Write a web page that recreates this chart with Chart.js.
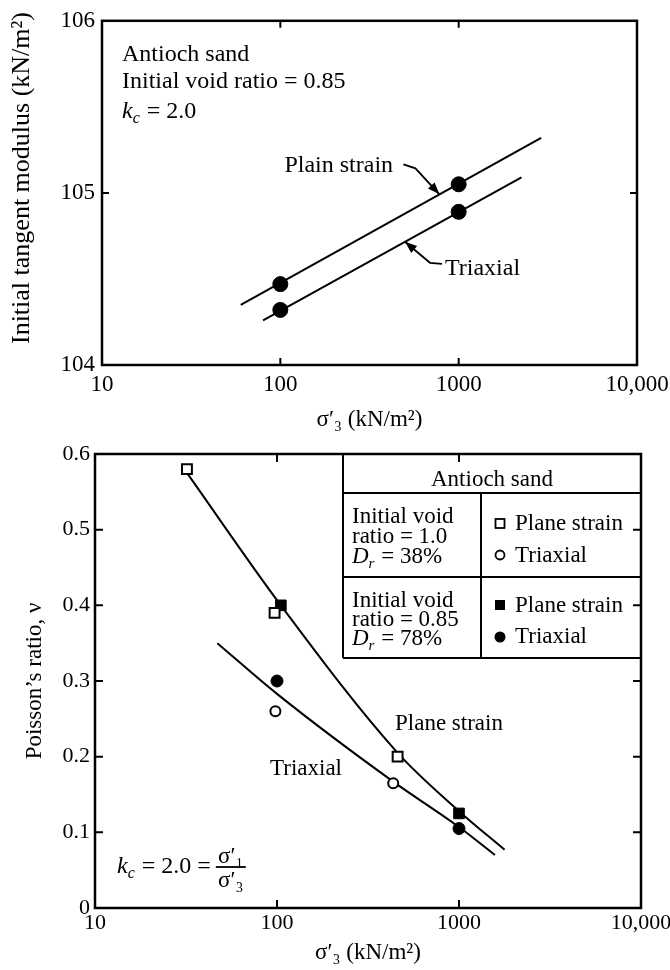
<!DOCTYPE html>
<html>
<head>
<meta charset="utf-8">
<script src="https://cdn.jsdelivr.net/npm/chart.js@4.4.1/dist/chart.umd.min.js"></script>
<style>
  html, body { margin: 0; padding: 0; background: #fff; }
  #wrap { position: relative; width: 670px; height: 970px; }
  canvas { position: absolute; left: 0; }
  #top { top: 0; }
  #bottom { top: 430px; }
</style>
</head>
<body>
<div id="wrap">
  <canvas id="top" width="670" height="450"></canvas>
  <canvas id="bottom" width="670" height="540"></canvas>
</div>
<script>
// shared x axis (log, sigma'3)
const xTicks = [10, 100, 1000, 10000];
const xTickLabels = ['10', '100', '1000', '10,000'];

// top: initial tangent modulus
const modTicks = [104, 105, 106];
const modPlainX = [100, 1000];
const modPlainY = [104.47, 105.05];
const modTriaxX = [100, 1000];
const modTriaxY = [104.32, 104.89];
const modPlainFitX = [60, 2900];
const modPlainFitY = [104.35, 105.32];
const modTriaxFitX = [80, 2250];
const modTriaxFitY = [104.26, 105.09];

// bottom: poisson's ratio
const nuTicks = [0, 0.1, 0.2, 0.3, 0.4, 0.5, 0.6];
const loosePlaneX = [32, 97, 460];
const loosePlaneY = [0.58, 0.39, 0.20];
const looseTriaxX = [98, 435];
const looseTriaxY = [0.26, 0.165];
const densePlaneX = [105, 1000];
const densePlaneY = [0.40, 0.125];
const denseTriaxX = [100, 1000];
const denseTriaxY = [0.30, 0.105];
const planeFitX = [32, 105, 460, 1000, 1780];
const planeFitY = [0.575, 0.40, 0.205, 0.128, 0.077];
const triaxFitX = [47, 100, 435, 1000, 1575];
const triaxFitY = [0.35, 0.283, 0.167, 0.107, 0.070];

const SERIF = "'Liberation Serif', 'Times New Roman', serif";
Chart.defaults.font.family = SERIF;
Chart.defaults.color = '#000';

const pts = (xs, ys) => xs.map((x, i) => ({ x: x, y: ys[i] }));

// y on a straight fit line in log-x
function fitAt(xs, ys, xv) {
  const t = (Math.log10(xv) - Math.log10(xs[0])) / (Math.log10(xs[1]) - Math.log10(xs[0]));
  return ys[0] + t * (ys[1] - ys[0]);
}

function frameAndTicks(chart, yVals, xVals, len) {
  const ctx = chart.ctx, a = chart.chartArea;
  const sx = chart.scales.x, sy = chart.scales.y;
  ctx.save();
  ctx.strokeStyle = '#000';
  ctx.lineWidth = 2.5;
  ctx.strokeRect(a.left, a.top, a.right - a.left, a.bottom - a.top);
  ctx.lineWidth = 2;
  ctx.beginPath();
  yVals.forEach(v => {
    const py = sy.getPixelForValue(v);
    ctx.moveTo(a.left, py); ctx.lineTo(a.left + len, py);
    ctx.moveTo(a.right, py); ctx.lineTo(a.right - len, py);
  });
  xVals.forEach(v => {
    const px = sx.getPixelForValue(v);
    ctx.moveTo(px, a.bottom); ctx.lineTo(px, a.bottom - len);
    ctx.moveTo(px, a.top); ctx.lineTo(px, a.top + len);
  });
  ctx.stroke();
  ctx.restore();
}

function arrow(ctx, path) {
  ctx.beginPath();
  ctx.moveTo(path[0][0], path[0][1]);
  for (let i = 1; i < path.length; i++) ctx.lineTo(path[i][0], path[i][1]);
  ctx.stroke();
  const [x1, y1] = path[path.length - 2], [x2, y2] = path[path.length - 1];
  const ang = Math.atan2(y2 - y1, x2 - x1);
  const c = Math.cos(ang), s = Math.sin(ang);
  ctx.beginPath();
  ctx.moveTo(x2, y2);
  ctx.lineTo(x2 - 12 * c + 4.5 * s, y2 - 12 * s - 4.5 * c);
  ctx.lineTo(x2 - 12 * c - 4.5 * s, y2 - 12 * s + 4.5 * c);
  ctx.closePath();
  ctx.fill();
}

// italic symbol with italic subscript, then plain text
function subText(ctx, x, y, main, sub, rest, size) {
  ctx.font = `italic ${size}px ${SERIF}`;
  ctx.fillText(main, x, y);
  x += ctx.measureText(main).width;
  ctx.font = `italic ${Math.round(size * 0.65)}px ${SERIF}`;
  ctx.fillText(sub, x, y + size * 0.2);
  x += ctx.measureText(sub).width + 1;
  ctx.font = `${size}px ${SERIF}`;
  ctx.fillText(rest, x, y);
  return x + ctx.measureText(rest).width;
}

function xAxis(fontSize, tickPad, height, titlePad, padRight) {
  return {
    type: 'logarithmic', min: 10, max: 10000,
    afterBuildTicks: s => { s.ticks = xTicks.map(v => ({ value: v })); },
    afterFit: s => { s.height = height; s.paddingRight = padRight; s.paddingLeft = 0; },
    ticks: {
      autoSkip: false, maxRotation: 0, padding: tickPad,
      font: { size: fontSize },
      callback: (v, i) => xTickLabels[i]
    },
    grid: { display: false, drawTicks: false },
    border: { display: false },
    title: { display: true, text: 'σ′₃ (kN/m²)', font: { size: 23 }, padding: { top: 0, bottom: titlePad } }
  };
}

const topDeco = {
  id: 'topDeco',
  afterDraw(chart) {
    const ctx = chart.ctx, a = chart.chartArea, sx = chart.scales.x, sy = chart.scales.y;
    frameAndTicks(chart, [105], [100, 1000], 7);
    ctx.save();
    ctx.fillStyle = '#000'; ctx.strokeStyle = '#000'; ctx.lineWidth = 2;
    ctx.textAlign = 'left'; ctx.textBaseline = 'alphabetic';
    ctx.font = `24px ${SERIF}`;
    ctx.fillText('Antioch sand', a.left + 20, a.top + 40);
    ctx.fillText('Initial void ratio = 0.85', a.left + 20, a.top + 67);
    subText(ctx, a.left + 20, a.top + 97, 'k', 'c', ' = 2.0', 24);

    const pt = [sx.getPixelForValue(780), sy.getPixelForValue(fitAt(modPlainFitX, modPlainFitY, 780))];
    ctx.font = `24px ${SERIF}`;
    ctx.fillText('Plain strain', pt[0] - 155, pt[1] - 22);
    ctx.lineWidth = 1.8;
    arrow(ctx, [[pt[0] - 36, pt[1] - 30], [pt[0] - 24, pt[1] - 26], pt]);

    const tt = [sx.getPixelForValue(500), sy.getPixelForValue(fitAt(modTriaxFitX, modTriaxFitY, 500))];
    ctx.fillText('Triaxial', tt[0] + 40, tt[1] + 33);
    arrow(ctx, [[tt[0] + 37, tt[1] + 22], [tt[0] + 25, tt[1] + 21], tt]);

    // y title
    ctx.translate(22, 178);
    ctx.rotate(-Math.PI / 2);
    ctx.textAlign = 'center'; ctx.textBaseline = 'middle';
    ctx.font = `26px ${SERIF}`;
    ctx.fillText('Initial tangent modulus (kN/m²)', 0, 0);
    ctx.restore();
  }
};

const bottomDeco = {
  id: 'bottomDeco',
  afterDraw(chart) {
    const ctx = chart.ctx, a = chart.chartArea;
    frameAndTicks(chart, [0.1, 0.2, 0.3, 0.4, 0.5], [100, 1000], 8);
    ctx.save();
    ctx.fillStyle = '#000'; ctx.strokeStyle = '#000'; ctx.lineWidth = 2;
    ctx.textAlign = 'left'; ctx.textBaseline = 'alphabetic';

    // legend table
    const L = 343, R = a.right, D = 481, h1 = 63, h2 = 147, h3 = 228;
    ctx.beginPath();
    ctx.moveTo(L, a.top); ctx.lineTo(L, h3);
    ctx.moveTo(L, h1); ctx.lineTo(R, h1);
    ctx.moveTo(L, h2); ctx.lineTo(R, h2);
    ctx.moveTo(L, h3); ctx.lineTo(R, h3);
    ctx.moveTo(D, h1); ctx.lineTo(D, h3);
    ctx.stroke();

    ctx.font = `23px ${SERIF}`;
    ctx.textAlign = 'center';
    ctx.fillText('Antioch sand', 492, 56);
    ctx.textAlign = 'left';
    ctx.fillText('Initial void', 352, 93);
    ctx.fillText('ratio = 1.0', 352, 113);
    subText(ctx, 352, 133, 'D', 'r', ' = 38%', 23);
    ctx.font = `23px ${SERIF}`;
    ctx.fillText('Initial void', 352, 177);
    ctx.fillText('ratio = 0.85', 352, 196);
    subText(ctx, 352, 215, 'D', 'r', ' = 78%', 23);

    ctx.lineWidth = 1.8;
    ctx.strokeRect(495.5, 89, 9, 9);
    ctx.beginPath(); ctx.arc(500, 125, 4.5, 0, Math.PI * 2); ctx.stroke();
    ctx.fillRect(495, 170, 10, 10);
    ctx.beginPath(); ctx.arc(500, 207, 5.5, 0, Math.PI * 2); ctx.fill();
    ctx.font = `23px ${SERIF}`;
    ctx.fillText('Plane strain', 515, 100);
    ctx.fillText('Triaxial', 515, 132);
    ctx.fillText('Plane strain', 515, 182);
    ctx.fillText('Triaxial', 515, 213);

    // curve labels
    ctx.fillText('Plane strain', 395, 300);
    ctx.fillText('Triaxial', 270, 345);

    // k_c = 2.0 = sigma'1 / sigma'3
    const ex = subText(ctx, 117, 443, 'k', 'c', ' = 2.0 =', 24);
    const fx = ex + 20;
    ctx.font = `23px ${SERIF}`;
    ctx.textAlign = 'center';
    ctx.fillText('σ′₁', fx, 433);
    ctx.fillText('σ′₃', fx, 457);
    ctx.lineWidth = 1.8;
    ctx.beginPath(); ctx.moveTo(fx - 15, 437); ctx.lineTo(fx + 15, 437); ctx.stroke();
    ctx.restore();
  }
};

new Chart(document.getElementById('top'), {
  type: 'scatter',
  data: {
    datasets: [
      { label: 'Plain strain', data: pts(modPlainX, modPlainY), pointRadius: 7.5, backgroundColor: '#000', borderColor: '#000', showLine: false },
      { label: 'Triaxial', data: pts(modTriaxX, modTriaxY), pointRadius: 7.5, backgroundColor: '#000', borderColor: '#000', showLine: false },
      { label: 'Plain strain fit', data: pts(modPlainFitX, modPlainFitY), showLine: true, pointRadius: 0, borderColor: '#000', borderWidth: 2 },
      { label: 'Triaxial fit', data: pts(modTriaxFitX, modTriaxFitY), showLine: true, pointRadius: 0, borderColor: '#000', borderWidth: 2 }
    ]
  },
  options: {
    responsive: false,
    animation: false,
    layout: { padding: { top: 18, right: 33, left: 0, bottom: 0 } },
    plugins: { legend: { display: false }, tooltip: { enabled: false } },
    scales: {
      x: xAxis(23, 6, 85, 16, 33),
      y: {
        type: 'linear', min: 104, max: 106,
        afterBuildTicks: s => { s.ticks = modTicks.map(v => ({ value: v })); },
        afterFit: s => { s.width = 102; },
        ticks: { padding: 7, font: { size: 23 }, callback: v => String(v) },
        grid: { display: false, drawTicks: false },
        border: { display: false }
      }
    }
  },
  plugins: [topDeco]
});

new Chart(document.getElementById('bottom'), {
  type: 'scatter',
  data: {
    datasets: [
      { label: 'Plane strain, e = 1.0', data: pts(loosePlaneX, loosePlaneY), pointStyle: 'rect', pointRadius: 7, backgroundColor: '#fff', borderColor: '#000', borderWidth: 2, showLine: false },
      { label: 'Triaxial, e = 1.0', data: pts(looseTriaxX, looseTriaxY), pointStyle: 'circle', pointRadius: 5, backgroundColor: '#fff', borderColor: '#000', borderWidth: 2, showLine: false },
      { label: 'Plane strain, e = 0.85', data: pts(densePlaneX, densePlaneY), pointStyle: 'rect', pointRadius: 7.5, backgroundColor: '#000', borderColor: '#000', showLine: false },
      { label: 'Triaxial, e = 0.85', data: pts(denseTriaxX, denseTriaxY), pointStyle: 'circle', pointRadius: 6, backgroundColor: '#000', borderColor: '#000', showLine: false },
      { label: 'Plane strain curve', data: pts(planeFitX, planeFitY), showLine: true, pointRadius: 0, borderColor: '#000', borderWidth: 2, cubicInterpolationMode: 'monotone' },
      { label: 'Triaxial curve', data: pts(triaxFitX, triaxFitY), showLine: true, pointRadius: 0, borderColor: '#000', borderWidth: 2, cubicInterpolationMode: 'monotone' }
    ]
  },
  options: {
    responsive: false,
    animation: false,
    layout: { padding: { top: 24, right: 28, left: 0, bottom: 0 } },
    plugins: { legend: { display: false }, tooltip: { enabled: false } },
    scales: {
      x: xAxis(22, 2, 62, 3, 29),
      y: {
        type: 'linear', min: 0, max: 0.6,
        afterBuildTicks: s => { s.ticks = nuTicks.map(v => ({ value: v })); },
        afterFit: s => { s.width = 95; },
        ticks: { padding: 5, font: { size: 22 }, callback: v => (v === 0 ? '0' : v.toFixed(1)) },
        grid: { display: false, drawTicks: false },
        border: { display: false },
        title: { display: true, text: 'Poisson’s ratio, ν', font: { size: 23 }, padding: { top: 21, bottom: 0 } }
      }
    }
  },
  plugins: [bottomDeco]
});
</script>
</body>
</html>
